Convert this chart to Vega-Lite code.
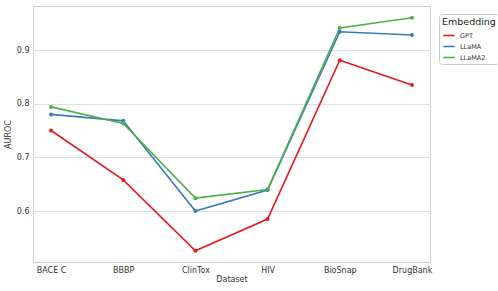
{
  "$schema": "https://vega.github.io/schema/vega-lite/v6.json",
  "width": 397,
  "height": 256,
  "autosize": {"type": "none"},
  "padding": {"left": 33, "top": 6, "right": 68, "bottom": 29},
  "background": "white",
  "config": {
    "font": "DejaVu Sans",
    "view": {"stroke": "#d0d0d0", "strokeWidth": 1},
    "axis": {
      "gridColor": "#e0e0e0",
      "gridWidth": 1,
      "domain": false,
      "ticks": false,
      "labelFontSize": 8,
      "labelColor": "#333333",
      "titleFontSize": 8,
      "titleFontWeight": "normal",
      "titleColor": "#333333",
      "labelPadding": 4
    }
  },
  "data": {
    "values": [
      {"Dataset": "BACE C", "Embedding": "GPT", "AUROC": 0.750},
      {"Dataset": "BBBP", "Embedding": "GPT", "AUROC": 0.658},
      {"Dataset": "ClinTox", "Embedding": "GPT", "AUROC": 0.526},
      {"Dataset": "HIV", "Embedding": "GPT", "AUROC": 0.585},
      {"Dataset": "BioSnap", "Embedding": "GPT", "AUROC": 0.881},
      {"Dataset": "DrugBank", "Embedding": "GPT", "AUROC": 0.835},
      {"Dataset": "BACE C", "Embedding": "LLaMA", "AUROC": 0.780},
      {"Dataset": "BBBP", "Embedding": "LLaMA", "AUROC": 0.768},
      {"Dataset": "ClinTox", "Embedding": "LLaMA", "AUROC": 0.600},
      {"Dataset": "HIV", "Embedding": "LLaMA", "AUROC": 0.639},
      {"Dataset": "BioSnap", "Embedding": "LLaMA", "AUROC": 0.934},
      {"Dataset": "DrugBank", "Embedding": "LLaMA", "AUROC": 0.928},
      {"Dataset": "BACE C", "Embedding": "LLaMA2", "AUROC": 0.794},
      {"Dataset": "BBBP", "Embedding": "LLaMA2", "AUROC": 0.763},
      {"Dataset": "ClinTox", "Embedding": "LLaMA2", "AUROC": 0.624},
      {"Dataset": "HIV", "Embedding": "LLaMA2", "AUROC": 0.640},
      {"Dataset": "BioSnap", "Embedding": "LLaMA2", "AUROC": 0.941},
      {"Dataset": "DrugBank", "Embedding": "LLaMA2", "AUROC": 0.960}
    ]
  },
  "mark": {"type": "line", "strokeWidth": 1.6, "point": {"size": 16, "filled": true, "opacity": 1}},
  "encoding": {
    "x": {
      "field": "Dataset",
      "type": "nominal",
      "sort": ["BACE C", "BBBP", "ClinTox", "HIV", "BioSnap", "DrugBank"],
      "scale": {"type": "point", "padding": 0.25},
      "axis": {"labelAngle": 0, "title": "Dataset", "titlePadding": 1}
    },
    "y": {
      "field": "AUROC",
      "type": "quantitative",
      "scale": {"domain": [0.505, 0.982], "nice": false, "zero": false},
      "axis": {"values": [0.6, 0.7, 0.8, 0.9], "format": ".1f", "title": "AUROC", "titlePadding": 4}
    },
    "color": {
      "field": "Embedding",
      "type": "nominal",
      "scale": {"domain": ["GPT", "LLaMA", "LLaMA2"], "range": ["#e41a1c", "#377eb8", "#4daf4a"]},
      "legend": {
        "title": "Embedding",
        "orient": "none",
        "legendX": 406,
        "legendY": 8,
        "titleFontSize": 9.5,
        "titleFontWeight": "normal",
        "titleColor": "#222222",
        "titlePadding": 2,
        "labelFontSize": 6.5,
        "labelColor": "#333333",
        "symbolType": "stroke",
        "symbolSize": 130,
        "symbolStrokeWidth": 1.6,
        "rowPadding": -3,
        "padding": 3,
        "strokeColor": "#cccccc",
        "cornerRadius": 3,
        "fillColor": "white"
      }
    }
  }
}
